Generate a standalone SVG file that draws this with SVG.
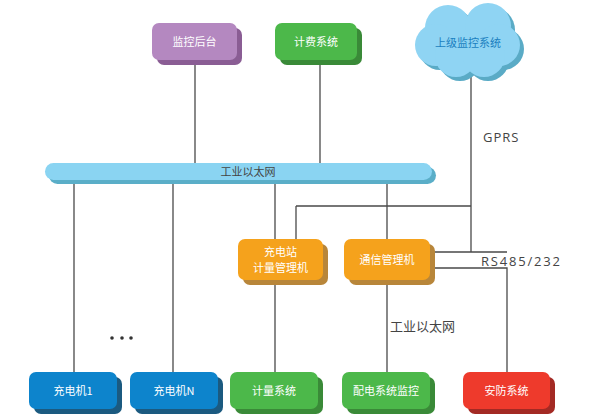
<svg xmlns="http://www.w3.org/2000/svg" width="589" height="420" viewBox="0 0 589 420">
<style>
.ln{stroke:#4a4a4a;stroke-width:1.3;fill:none}
.bt{font-family:"Noto Sans CJK SC","Noto Sans",sans-serif;font-size:11px;fill:#ffffff;text-anchor:middle}
.lb{font-family:"Open Sans","DejaVu Sans",sans-serif;font-size:13px;fill:#444444;letter-spacing:1px}
.lc{font-family:"Noto Sans CJK SC",sans-serif;font-size:13px;fill:#444444}
</style>
<rect width="589" height="420" fill="#ffffff"/>
<g id="connectors">
<path class="ln" d="M195 60V163M320 60V163M471 76V252M296 206H471M296 206V239M74 183V372M173 183V372M275 183V372M387 183V372M430 252H507M430 268H507V372"/>
</g>
<g id="bus">
<rect x="49" y="167" width="387" height="17" rx="8.5" fill="#5aaec8"/>
<rect x="45" y="163" width="387" height="17" rx="8.5" fill="#8ad4f2"/>
<text x="248" y="176" font-family="Noto Sans CJK SC,sans-serif" font-size="11" fill="#444444" text-anchor="middle">工业以太网</text>
</g>
<g id="cloud">
<g fill="#5aabc6" transform="translate(4,4)">
<circle cx="448" cy="28" r="23"/><circle cx="488" cy="26" r="23"/><circle cx="436" cy="45" r="21"/><circle cx="499" cy="45" r="21"/><circle cx="456" cy="56" r="21"/><circle cx="484" cy="56" r="21"/><rect x="440" y="30" width="60" height="30"/>
</g>
<g fill="#8fd4f3">
<circle cx="448" cy="28" r="23"/><circle cx="488" cy="26" r="23"/><circle cx="436" cy="45" r="21"/><circle cx="499" cy="45" r="21"/><circle cx="456" cy="56" r="21"/><circle cx="484" cy="56" r="21"/><rect x="440" y="30" width="60" height="30"/>
</g>
<text x="468" y="47" class="bt" style="fill:#1a7fc0">上级监控系统</text>
</g>
<g id="n-jkht">
<rect x="157" y="28" width="85" height="37" rx="7" fill="#8a5d94"/>
<rect x="152" y="23" width="85" height="37" rx="7" fill="#b488c0"/>
<text x="194.5" y="45.5" class="bt">监控后台</text>
</g>
<g id="n-jfxt">
<rect x="280" y="28" width="82" height="37" rx="7" fill="#3a8a38"/>
<rect x="275" y="23" width="82" height="37" rx="7" fill="#4cb84a"/>
<text x="316" y="45.5" class="bt">计费系统</text>
</g>
<g id="n-cdz">
<rect x="243" y="244" width="85" height="41" rx="7" fill="#b8863a"/>
<rect x="238" y="239" width="85" height="41" rx="7" fill="#f5a21c"/>
<text x="280.5" y="256" class="bt">充电站</text>
<text x="280.5" y="272" class="bt">计量管理机</text>
</g>
<g id="n-txglj">
<rect x="349" y="244" width="86" height="41" rx="7" fill="#b8863a"/>
<rect x="344" y="239" width="86" height="41" rx="7" fill="#f5a21c"/>
<text x="387" y="263.5" class="bt">通信管理机</text>
</g>
<g id="n-cdj1">
<rect x="34" y="377" width="88" height="37" rx="7" fill="#1b5a80"/>
<rect x="29" y="372" width="88" height="37" rx="7" fill="#0d84cc"/>
<text x="73" y="394.5" class="bt">充电机1</text>
</g>
<g id="n-cdjn">
<rect x="135" y="377" width="88" height="37" rx="7" fill="#1b5a80"/>
<rect x="130" y="372" width="88" height="37" rx="7" fill="#0d84cc"/>
<text x="174" y="394.5" class="bt">充电机N</text>
</g>
<g id="n-jlxt">
<rect x="235" y="377" width="88" height="37" rx="7" fill="#3a8a38"/>
<rect x="230" y="372" width="88" height="37" rx="7" fill="#4cb84a"/>
<text x="274" y="394.5" class="bt">计量系统</text>
</g>
<g id="n-pdxt">
<rect x="347" y="377" width="88" height="37" rx="7" fill="#3a8a38"/>
<rect x="342" y="372" width="88" height="37" rx="7" fill="#4cb84a"/>
<text x="386" y="394.5" class="bt">配电系统监控</text>
</g>
<g id="n-afxt">
<rect x="468" y="377" width="87" height="37" rx="7" fill="#a32a24"/>
<rect x="463" y="372" width="87" height="37" rx="7" fill="#ee3a2c"/>
<text x="506.5" y="394.5" class="bt">安防系统</text>
</g>
<g id="labels">
<text x="483" y="142" class="lb">GPRS</text>
<text x="481" y="266" class="lb" style="letter-spacing:1.8px">RS485/232</text>
<text x="390" y="331" class="lc">工业以太网</text>
<circle cx="112" cy="338" r="1.8" fill="#333"/><circle cx="122" cy="338" r="1.8" fill="#333"/><circle cx="131" cy="338" r="1.8" fill="#333"/>
</g>
</svg>
